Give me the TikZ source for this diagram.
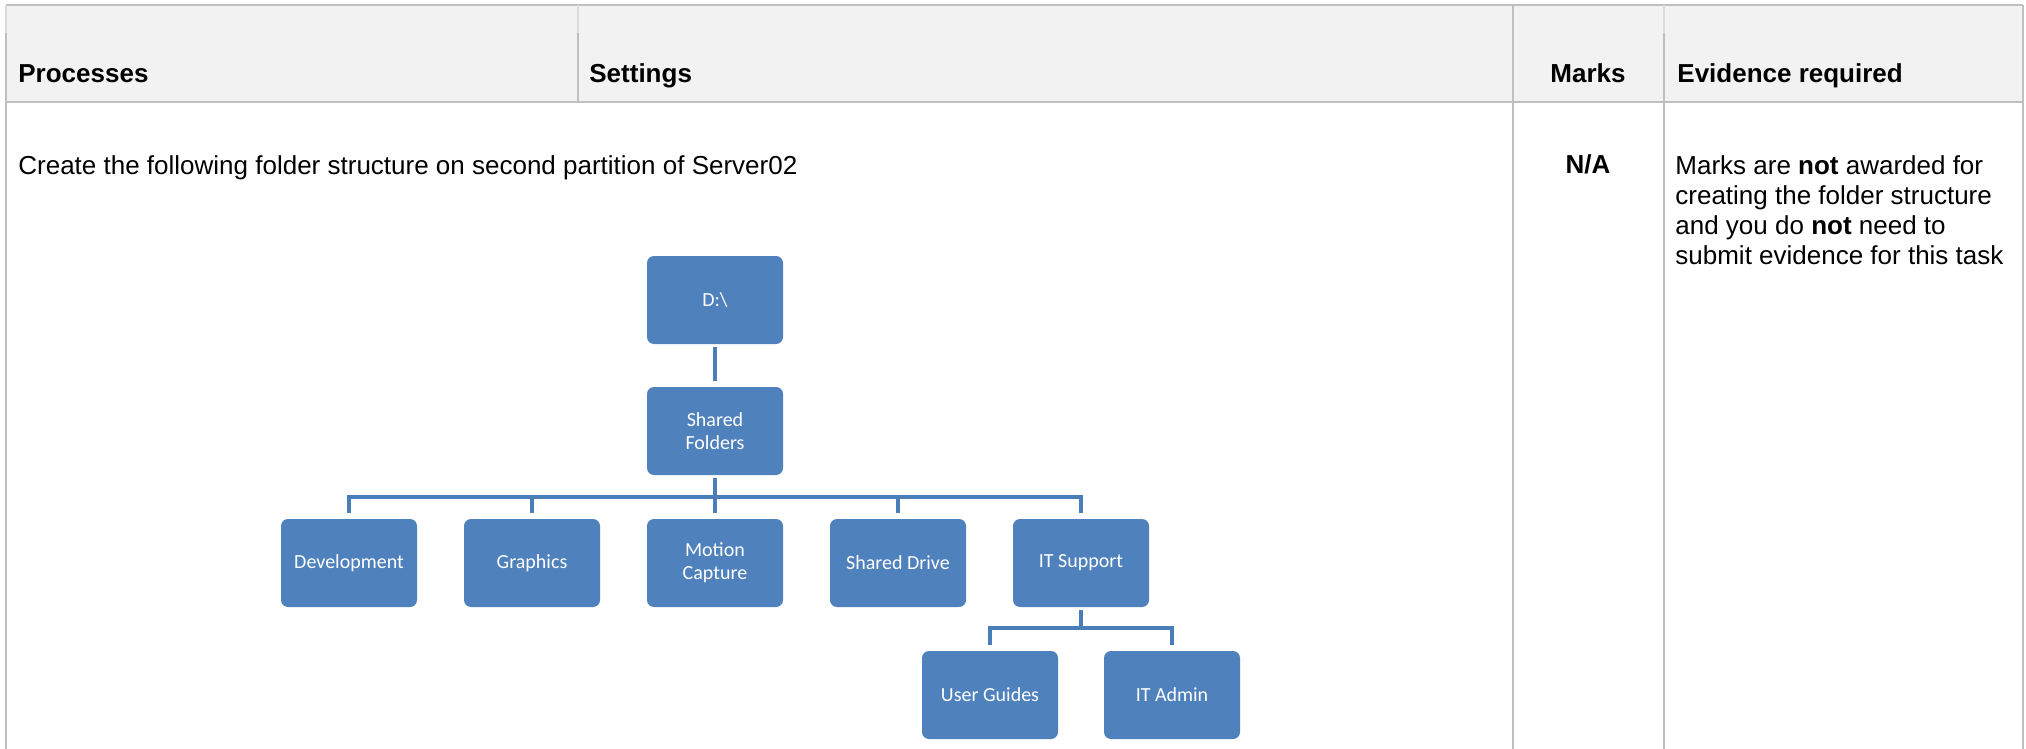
\documentclass[tikz,border=0pt]{standalone}
\usepackage{fontspec}
\setmainfont{Liberation Sans}
\newfontfamily\folderfont{Carlito}
\usepackage{xcolor}
\usepackage{tikz}
\usetikzlibrary{positioning}
\definecolor{folderblue}{HTML}{4F81BD}
\definecolor{linkblue}{HTML}{4A7EBB}
\definecolor{gridgrey}{HTML}{BFBFBF}
\definecolor{gridlight}{HTML}{DCDCDC}
\definecolor{headfill}{HTML}{F2F2F2}

\begin{document}
\begin{tikzpicture}[
    x=0.5pt,
    y=-0.5pt,
    folder/.style={
        rectangle,
        rounded corners=3.5pt,
        minimum width=68pt,
        minimum height=44pt,
        inner sep=0pt,
        align=center,
        font=\folderfont\fontsize{10}{11.5}\selectfont,
        text=white,
        fill=folderblue
    },
    link/.style={
        draw=linkblue,
        line width=2pt,
        shorten <=1.5pt,
        shorten >=3pt
    },
    grid/.style={
        draw=gridgrey,
        line width=1pt
    },
    gridtop/.style={
        draw=gridlight,
        line width=0.8pt
    },
    headtext/.style={
        inner sep=0pt,
        font=\fontsize{13}{15}\selectfont\bfseries
    },
    bodytext/.style={
        inner sep=0pt,
        align=left,
        font=\fontsize{13}{15}\selectfont
    }
]
\useasboundingbox (0,0) rectangle (2026,749);

% Table frame
\fill[headfill] (6,5) rectangle (2023,102);
\draw[grid] (6,5) -- (2023,5);
\draw[grid] (6,102) -- (2023,102);
\foreach \xcol in {6,578,1664} {
    \draw[gridtop] (\xcol,5) -- (\xcol,33);
}
\draw[grid] (6,33) -- (6,749);
\draw[grid] (578,33) -- (578,102);
\draw[grid] (1513,5) -- (1513,749);
\draw[grid] (1664,33) -- (1664,749);
\draw[grid] (2023,5) -- (2023,749);

% Header row
\node[headtext, anchor=base west] (hproc) at (18,83) {Processes};
\node[headtext, anchor=base west] (hset) at (589,83) {Settings};
\node[headtext, anchor=base] (hmarks) at (1588,83) {Marks};
\node[headtext, anchor=base west] (hevid) at (1677,83) {Evidence required};

% Task row
\node[bodytext, anchor=base west] (task) at (18,175) {Create the following folder structure on second partition of Server02};
\node[headtext, anchor=base] (na) at (1588,174) {N/A};
\node[bodytext, anchor=north west] (evid) at (1675,155) {Marks are \textbf{not} awarded for\\creating the folder structure\\and you do \textbf{not} need to\\submit evidence for this task};

% Folder tree
\node[folder] (drive) at (715,300) {D:\textbackslash};
\node[folder] (shared) at (715,431) {Shared\\Folders};

\node[folder] (dev) at (349,563) {Development};
\node[folder] (gfx) at (532,563) {Graphics};
\node[folder] (mocap) at (715,563) {Motion\\Capture};
\node[folder] (shdrive) at (898,563) {Shared Drive};
\node[folder] (itsup) at (1081,563) {IT Support};

\node[folder] (guides) at (990,695) {User Guides};
\node[folder] (itadmin) at (1172,695) {IT Admin};

% Connections
\draw[link] (drive) -- (shared);
\foreach \kid in {dev, gfx, mocap, shdrive, itsup} {
    \draw[link] (shared.south) -- ++(0,22) -| (\kid.north);
}
\foreach \kid in {guides, itadmin} {
    \draw[link] (itsup.south) -- ++(0,21) -| (\kid.north);
}

\end{tikzpicture}
\end{document}
